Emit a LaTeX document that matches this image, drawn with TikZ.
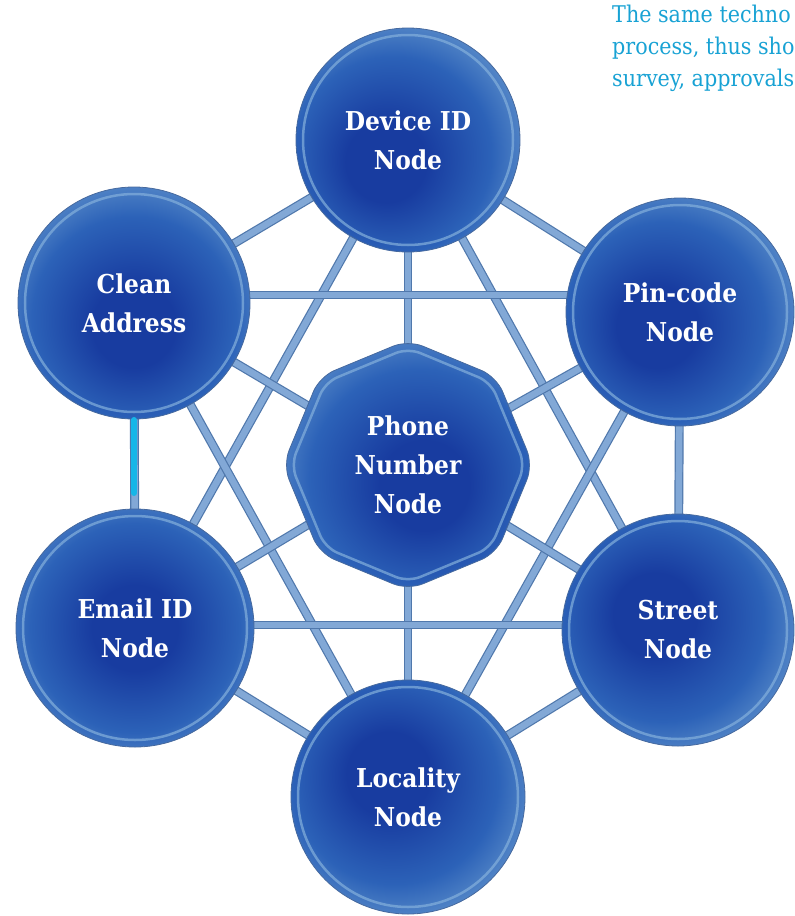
\documentclass[tikz,border=0pt]{standalone}
\usepackage{fontspec}
\usetikzlibrary{shapes.geometric}
\newfontfamily\nodefont{DejaVu Serif Condensed}[BoldFont={DejaVu Serif Condensed Bold}]
\definecolor{deepblue}{RGB}{24,60,160}
\definecolor{midblue}{RGB}{44,98,184}
\definecolor{edgeblue}{RGB}{96,146,204}
\definecolor{ringblue}{RGB}{132,176,220}
\definecolor{rimblue}{RGB}{70,105,158}
\definecolor{linkfill}{RGB}{130,168,214}
\definecolor{linkedge}{RGB}{80,120,172}
\definecolor{accentcyan}{RGB}{22,182,232}
\definecolor{captioncyan}{RGB}{24,162,212}
% radial washes; the dark core is offset differently for each bubble
\newcommand\declarewash[3]{%
  \pgfdeclareradialshading{#1}{\pgfpoint{#2bp}{#3bp}}{%
    color(0bp)=(deepblue); color(9bp)=(deepblue); color(22bp)=(midblue);
    color(31bp)=(edgeblue); color(35bp)=(ringblue); color(50bp)=(ringblue)}}
\declarewash{washdev}{-6}{-6}
\declarewash{washclean}{0}{-6}
\declarewash{washpin}{-6}{-4}
\declarewash{washphone}{4}{-5}
\declarewash{washemail}{0}{0}
\declarewash{washstreet}{-6}{4}
\declarewash{washloc}{-5}{6}
\pgfdeclarelayer{bg}
\pgfsetlayers{bg,main}
\tikzset{
  bubble/.style={circle, draw=rimblue, line width=0.8pt,
    inner sep=0pt, align=center, text=white,
    font=\nodefont\bfseries\fontsize{26}{39}\selectfont},
  octobubble/.style={bubble, shape=regular polygon, regular polygon sides=8,
    shape border rotate=22.5, rounded corners=16pt},
  ring/.style={draw=ringblue, line width=2.5pt, opacity=0.7},
  link/.style={draw=linkedge, line width=1.2pt, double=linkfill,
    double distance=6.5pt},
  accent/.style={draw=accentcyan, line width=6pt, line cap=round}
}
% watercolour bubble: name, x, y, radius, shading, label
\newcommand\wbubble[6]{%
  \node[bubble, shading=#5, minimum size=#4*2pt] (#1) at (#2,#3) {#6};
  \draw[ring] (#1.center) circle[radius=#4-7];
}
\begin{document}
\begin{tikzpicture}[x=1pt,y=-1pt]
\useasboundingbox (0,0) rectangle (795,916);

% caption text running off the right edge
\node[anchor=north west, inner sep=0pt, align=left, text=captioncyan,
  font=\nodefont\fontsize{23}{32}\selectfont] (caption) at (612,5)
  {The same techno\\process, thus sho\\survey, approvals};

% outer ring of nodes
\wbubble{dev}{408}{140}{112}{washdev}{Device ID\\Node}
\wbubble{clean}{134}{303}{116}{washclean}{Clean\\Address}
\wbubble{pin}{680}{312}{114}{washpin}{Pin-code\\Node}
\wbubble{email}{135}{628}{119}{washemail}{Email ID\\Node}
\wbubble{street}{678}{630}{116}{washstreet}{Street\\Node}
\wbubble{loc}{408}{797}{117}{washloc}{Locality\\Node}

% central node
\node[octobubble, shading=washphone, minimum size=250pt] (phone) at (408,465)
  {Phone\\Number\\Node};
\draw[ring, rounded corners=13pt]
  ([shift={(90:117)}]phone.center) -- ([shift={(135:117)}]phone.center) --
  ([shift={(180:117)}]phone.center) -- ([shift={(225:117)}]phone.center) --
  ([shift={(270:117)}]phone.center) -- ([shift={(315:117)}]phone.center) --
  ([shift={(0:117)}]phone.center) -- ([shift={(45:117)}]phone.center) -- cycle;

\begin{pgfonlayer}{bg}
  \draw[link] (dev.center) -- (clean.center);
  \draw[link] (dev.center) -- (pin.center);
  \draw[link] (dev.center) -- (phone.center);
  \draw[link] (dev.center) -- (email.center);
  \draw[link] (dev.center) -- (street.center);
  \draw[link] ([yshift=8pt]clean.center) -- ([yshift=17pt]pin.center);
  \draw[link] (clean.center) -- (phone.center);
  \draw[link] (clean.center) -- (loc.center);
  \draw[link] (clean.center) -- (email.center);
  \draw[link] (pin.center) -- (phone.center);
  \draw[link] (pin.center) -- (loc.center);
  \draw[link] (pin.center) -- (street.center);
  \draw[link] (phone.center) -- (email.center);
  \draw[link] (phone.center) -- (street.center);
  \draw[link] (phone.center) -- (loc.center);
  \draw[link] ([yshift=3pt]email.center) -- ([yshift=5pt]street.center);
  \draw[link] (email.center) -- (loc.center);
  \draw[link] (street.center) -- (loc.center);
\end{pgfonlayer}

% highlighted stretch of the Clean Address -- Email ID link
\coordinate (accA) at ([yshift=-117pt]clean.center);
\coordinate (accB) at ([yshift=-190pt]clean.center);
\draw[accent] (accA) -- (accB);
\end{tikzpicture}
\end{document}
